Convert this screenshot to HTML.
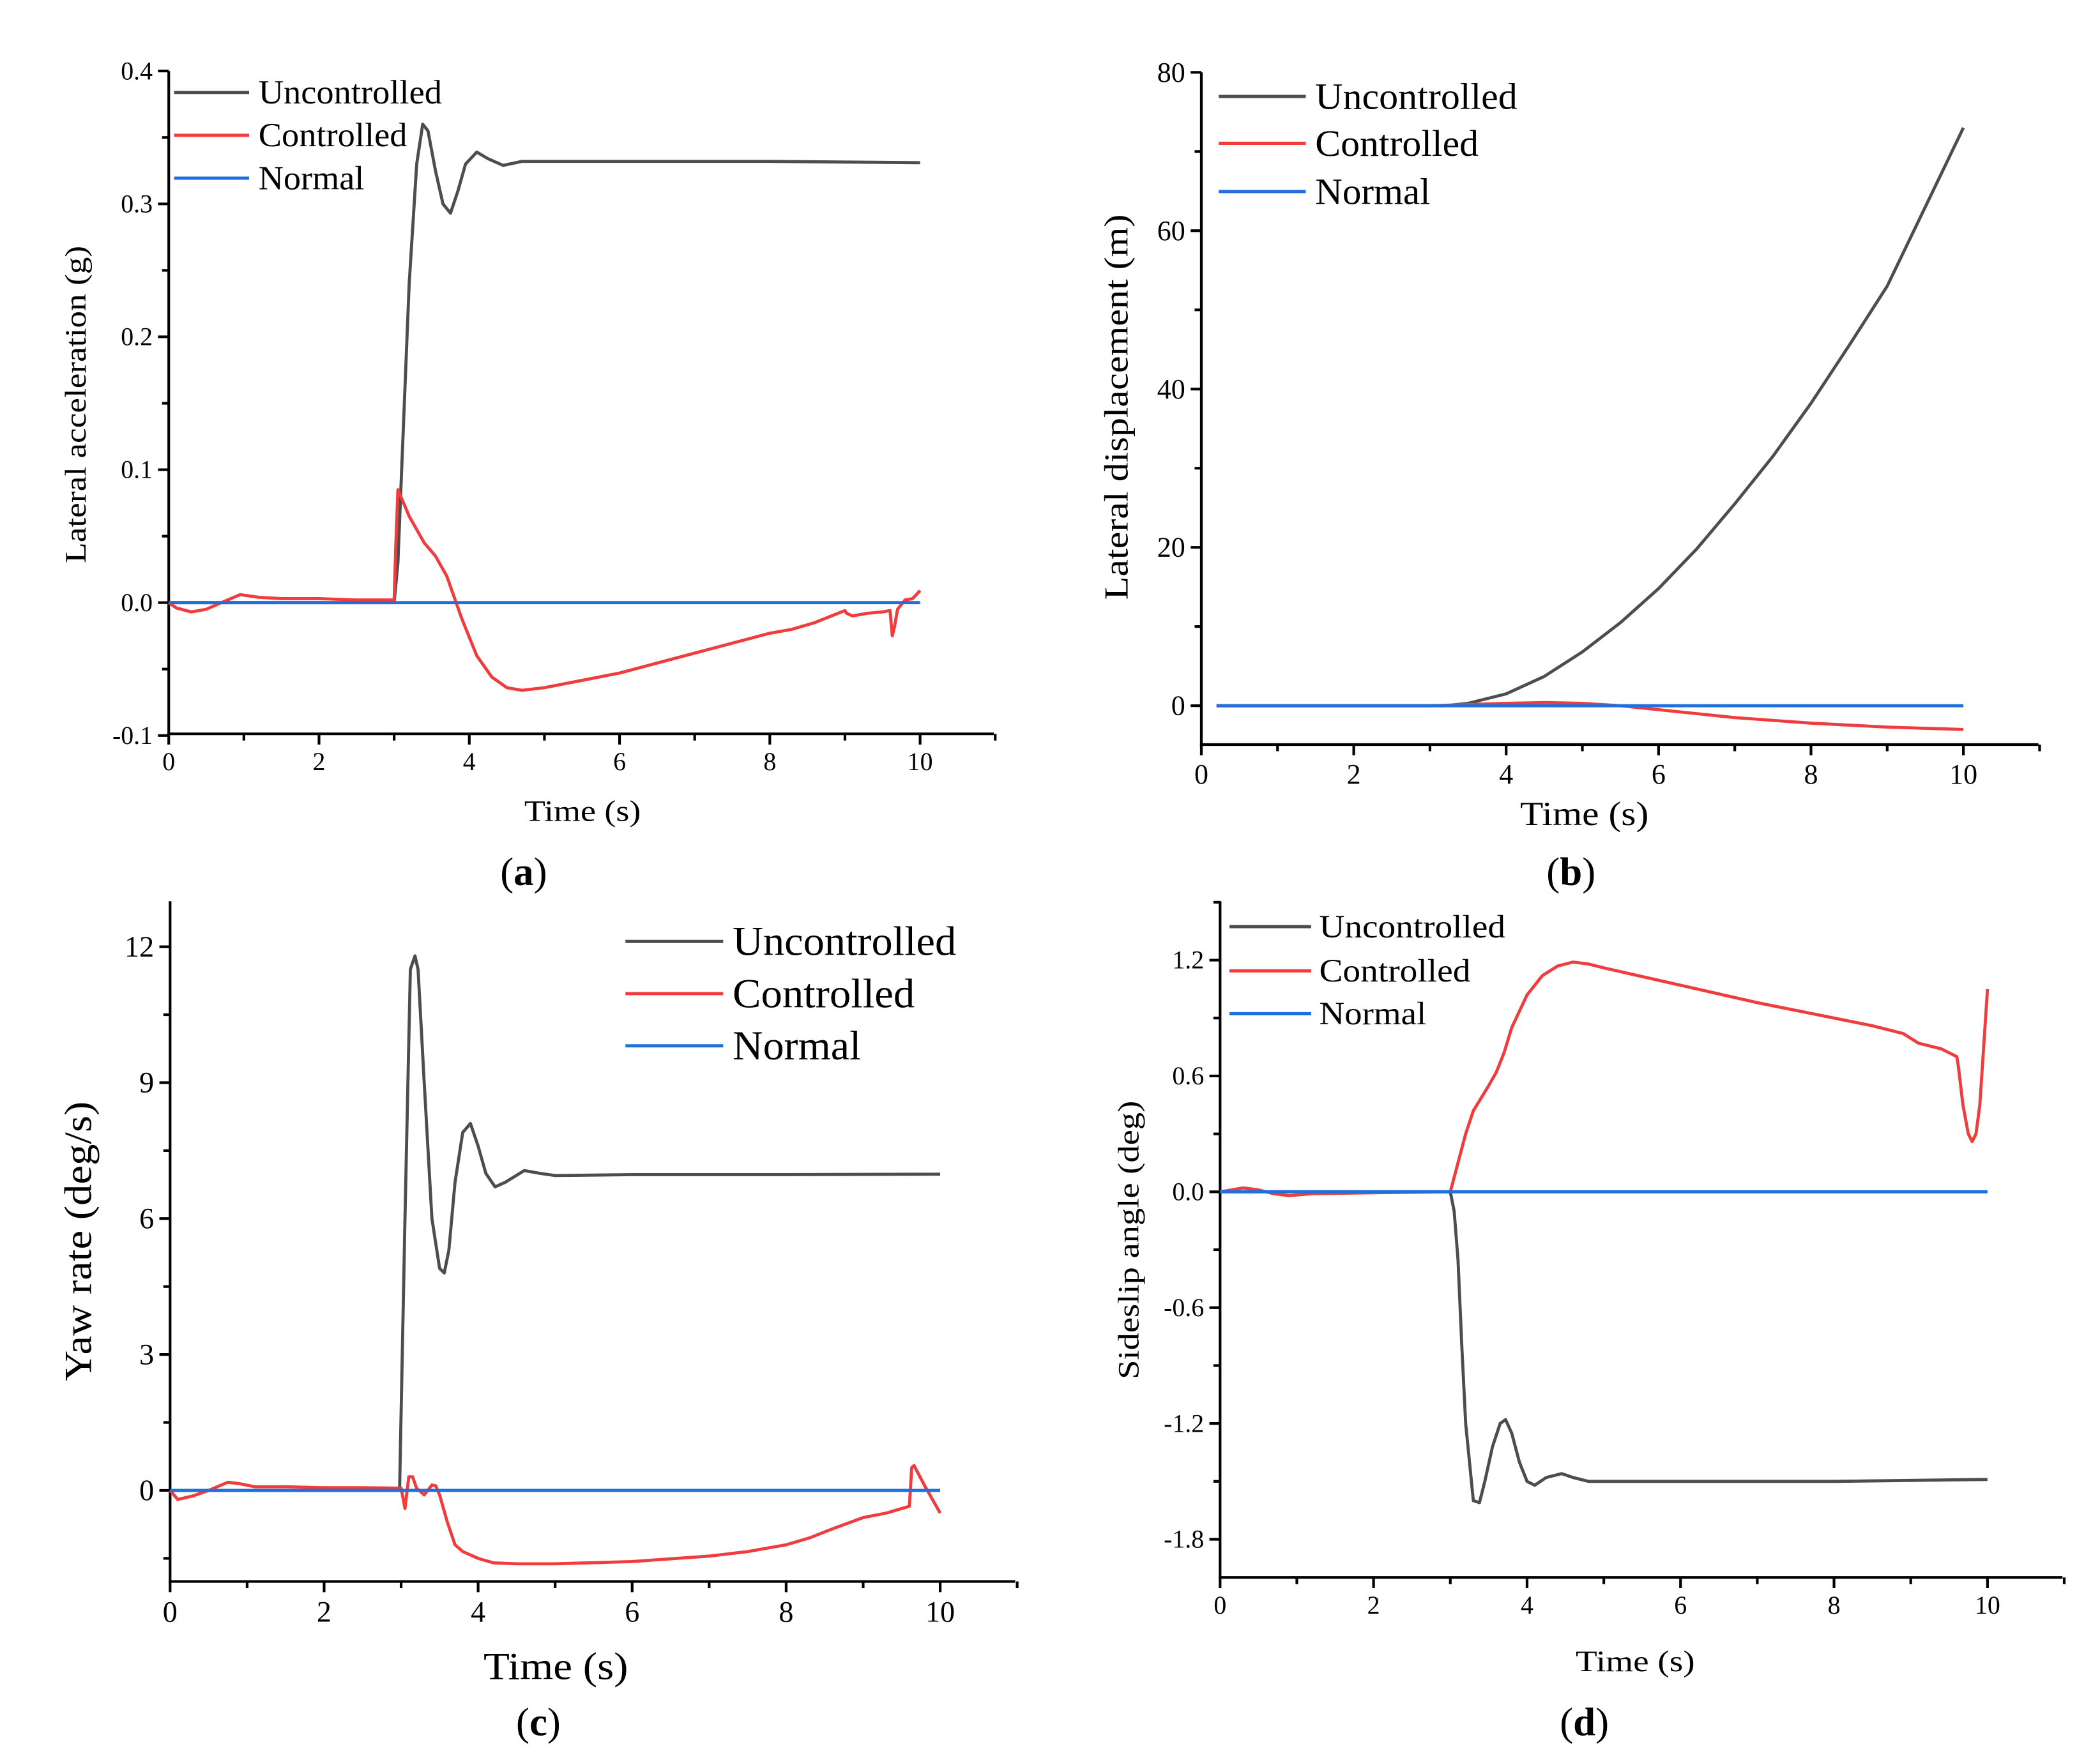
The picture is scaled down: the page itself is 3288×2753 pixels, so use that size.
<!DOCTYPE html>
<html><head><meta charset="utf-8"><style>
html,body{margin:0;padding:0;background:#fff}
svg{display:block}
text{font-family:"Liberation Serif",serif;fill:#000}
</style></head><body>
<svg id="fig" xmlns="http://www.w3.org/2000/svg" width="3288" height="2753" viewBox="0 0 1568 1312.8"></svg>
<script>
// ---- Panel (a) lateral acceleration ----
const aUncT=[0,3,3.05,3.1,3.2,3.3,3.38,3.45,3.55,3.65,3.75,3.85,3.95,4.1,4.25,4.45,4.7,5,6,8,10];
const aUncV=[0,0,0.03,0.1,0.24,0.33,0.36,0.355,0.325,0.30,0.293,0.31,0.33,0.339,0.334,0.329,0.332,0.332,0.332,0.332,0.331];
const aConT=[0,0.1,0.3,0.5,0.7,0.95,1.2,1.5,2,2.5,3,3.02,3.05,3.2,3.4,3.55,3.7,3.9,4.1,4.3,4.5,4.7,5,6,7,8,8.3,8.6,9,9.02,9.1,9.3,9.5,9.6,9.63,9.66,9.7,9.8,9.9,10];
const aConV=[0,-0.004,-0.007,-0.005,0,0.006,0.004,0.003,0.003,0.002,0.002,0.04,0.085,0.065,0.045,0.035,0.02,-0.012,-0.04,-0.056,-0.064,-0.066,-0.064,-0.053,-0.038,-0.023,-0.02,-0.015,-0.006,-0.008,-0.01,-0.008,-0.007,-0.006,-0.025,-0.018,-0.005,0.002,0.003,0.009];
const aNorT=[0,10];
const aNorV=[0,0];
const aYTicks=["-0.1","0.0","0.1","0.2","0.3","0.4"];
// ---- Panel (b) lateral displacement ----
const bUncT=[0.2,3.2,3.5,4,4.5,5,5.5,6,6.5,7,7.5,8,8.5,9,9.5,10];
const bUncV=[0,0,0.3,1.5,3.7,6.8,10.5,14.8,19.8,25.5,31.5,38.2,45.5,53,63,73];
const bConT=[0.2,3,4,4.5,5,5.5,6,7,8,9,10];
const bConV=[0,0,0.3,0.4,0.3,0,-0.5,-1.5,-2.2,-2.7,-3];
const bNorT=[0.2,10];
const bNorV=[0,0];
const bYTicks=["0","20","40","60","80"];
// ---- Panel (c) yaw rate ----
const cUncT=[0,2.98,3.05,3.12,3.18,3.22,3.3,3.4,3.5,3.56,3.62,3.7,3.8,3.9,4.0,4.1,4.22,4.35,4.6,4.8,5,6,8,10];
const cUncV=[0,0,6,11.5,11.8,11.5,9,6,4.9,4.8,5.3,6.8,7.9,8.1,7.6,7,6.7,6.8,7.06,7.0,6.95,6.97,6.97,6.98];
const cConT=[0,0.1,0.3,0.5,0.75,0.9,1.1,1.5,2,2.5,3,3.05,3.1,3.15,3.2,3.3,3.4,3.45,3.5,3.6,3.7,3.8,4,4.2,4.5,5,6,7,7.5,8,8.3,8.6,9,9.3,9.6,9.63,9.66,9.8,10];
const cConV=[0,-0.2,-0.12,0,0.18,0.15,0.08,0.08,0.06,0.06,0.05,-0.4,0.3,0.3,0.05,-0.1,0.12,0.1,-0.1,-0.7,-1.2,-1.35,-1.5,-1.6,-1.62,-1.62,-1.57,-1.45,-1.35,-1.2,-1.05,-0.85,-0.6,-0.5,-0.35,0.5,0.55,0.1,-0.5];
const cNorT=[0,10];
const cNorV=[0,0];
const cYTicks=["0","3","6","9","12"];
// ---- Panel (d) sideslip angle ----
const dUncT=[0,3,3.05,3.1,3.15,3.2,3.3,3.38,3.45,3.55,3.65,3.72,3.8,3.9,4.0,4.1,4.25,4.45,4.6,4.8,5,6,8,10];
const dUncV=[0,0,-0.1,-0.35,-0.8,-1.2,-1.6,-1.61,-1.5,-1.32,-1.2,-1.18,-1.25,-1.4,-1.5,-1.52,-1.48,-1.46,-1.48,-1.5,-1.5,-1.5,-1.5,-1.49];
const dConT=[0,0.15,0.3,0.5,0.7,0.9,1.2,2,3,3.1,3.2,3.3,3.5,3.6,3.7,3.8,4.0,4.2,4.4,4.6,4.8,5,6,7,8,8.5,8.9,9.1,9.4,9.6,9.62,9.68,9.75,9.8,9.85,9.9,9.95,10];
const dConV=[0,0.01,0.02,0.01,-0.01,-0.02,-0.01,-0.005,0,0.15,0.3,0.42,0.55,0.62,0.72,0.85,1.02,1.12,1.17,1.19,1.18,1.16,1.07,0.98,0.9,0.86,0.82,0.77,0.74,0.7,0.65,0.45,0.3,0.26,0.3,0.45,0.75,1.05];
const dNorT=[0,10];
const dNorV=[0,0];
const dYTicks=["-1.8","-1.2","-0.6","0.0","0.6","1.2"];
const xTicks=["0","2","4","6","8","10"];

const NS="http://www.w3.org/2000/svg";
const svg=document.getElementById('fig');
function mk(tag,attrs,parent){const e=document.createElementNS(NS,tag);for(const k in attrs)e.setAttribute(k,attrs[k]);(parent||svg).appendChild(e);return e;}
function txt(s,attrs,parent){const e=mk('text',attrs,parent);e.textContent=s;return e;}
const COL={unc:'#4d4d4d',con:'#f03c3c',nor:'#1f6fdc'};

function panel(P){
  const g=mk('g',{});
  
  
  const sx=v=>P.x0+(v-0)/(10-0)*(P.x10-P.x0);
  const sy=v=>P.yA+(v-P.vA)/(P.vB-P.vA)*(P.yB-P.yA);
  const ya=mk('line',{x1:P.x0,y1:P.top,x2:P.x0,y2:P.bot+1,stroke:'#000','stroke-width':2},g);
  
  const xa=mk('line',{x1:P.x0-1,y1:P.bot,x2:P.xEnd,y2:P.bot,stroke:'#000','stroke-width':2},g);
  
  for(let i=0;i<=11;i++){const x=sx(i);const major=i%2==0;
    mk('line',{x1:x,y1:P.bot,x2:x,y2:P.bot+(major?8:5),stroke:'#000','stroke-width':2},g);
    if(major&&i<=10){const t=txt(xTicks[i/2],{x:x,y:P.bot+P.tf+8,'font-size':P.tf,'text-anchor':'middle'},g);
      }
  }
  P.yTicks.forEach((lab,i)=>{const v=parseFloat(lab);const y=sy(v);
    mk('line',{x1:P.x0-8,y1:y,x2:P.x0,y2:y,stroke:'#000','stroke-width':2},g);
    const t=txt(lab,{x:P.x0-12,y:y+P.tf*0.33,'font-size':P.tf,'text-anchor':'end'},g);
    
    if(i<P.yTicks.length-1||P.extraMinor){const vm=v+P.step/2;const ym=sy(vm);
      if(ym>P.top-1) mk('line',{x1:P.x0-5,y1:ym,x2:P.x0,y2:ym,stroke:'#000','stroke-width':2},g);}
    if(i==0&&P.minorBelow){const ym=sy(v-P.step/2);if(ym<P.bot-2)mk('line',{x1:P.x0-5,y1:ym,x2:P.x0,y2:ym,stroke:'#000','stroke-width':2},g);}
  });
  const ser=[['uncontrolled',P.unc[0],P.unc[1],COL.unc],['controlled',P.con[0],P.con[1],COL.con],['normal',P.nor[0],P.nor[1],COL.nor]];
  ser.forEach(s=>{const d=s[1].map((t,i)=>(i?'L':'M')+sx(t).toFixed(2)+','+sy(s[2][i]).toFixed(2)).join('');
    const p=mk('path',{d:d,fill:'none',stroke:s[3],'stroke-width':2.3,'stroke-linejoin':'round'},g);
    });
  const labs=['Uncontrolled','Controlled','Normal'];const cols=[COL.unc,COL.con,COL.nor];
  labs.forEach((l,i)=>{const y=P.lgY[i];
    const ln=mk('line',{x1:P.lgX1,y1:y,x2:P.lgX2,y2:y,stroke:cols[i],'stroke-width':2.4},g);
    
    const t=txt(l,{x:P.lgT,y:y+P.lf*0.33,'font-size':P.lf},g);
    t.setAttribute('textLength',P.lw[i]);t.setAttribute('lengthAdjust','spacingAndGlyphs');
    });
  const yt=txt(P.ylab,{x:0,y:0,'font-size':P.af,'text-anchor':'middle',transform:`translate(${P.ylx},${P.yly}) rotate(-90)`,textLength:P.ylw,lengthAdjust:'spacingAndGlyphs'},g);
  
  const xt=txt('Time (s)',{x:P.xlx,y:P.xly,'font-size':P.af,'text-anchor':'middle',textLength:P.xlw,lengthAdjust:'spacingAndGlyphs'},g);
  
  const cap=mk('text',{x:P.cx,y:P.cy,'font-size':30,'text-anchor':'middle'},g);
  cap.innerHTML='(<tspan font-weight="bold">'+P.cap+'</tspan>)';
  
}

panel({name:'panel-a-lateral-acceleration',x0:126,x10:687,xEnd:742,top:53,bot:548,yA:450,vA:0,yB:53,vB:0.4,step:0.1,minorBelow:true,
  yTicks:aYTicks,tf:19,unc:[aUncT,aUncV],con:[aConT,aConV],nor:[aNorT,aNorV],
  lgX1:130,lgX2:186,lgT:193,lgY:[69,101,133],lf:25,lw:[137,111,79],
  ylab:'Lateral acceleration (g)',ylx:64,yly:302,af:22,ylw:237,xlx:435,xly:613,xlw:87,cx:391,cy:661,cap:'a'});
panel({name:'panel-b-lateral-displacement',x0:897,x10:1466,xEnd:1522,top:54,bot:556,yA:527,vA:0,yB:54,vB:80,step:20,minorBelow:true,
  yTicks:bYTicks,tf:21,unc:[bUncT,bUncV],con:[bConT,bConV],nor:[bNorT,bNorV],
  lgX1:910,lgX2:975,lgT:982,lgY:[72,107,143],lf:28,lw:[151,122,86],
  ylab:'Lateral displacement (m)',ylx:842,yly:304,af:25,ylw:288,xlx:1183,xly:616,xlw:96,cx:1173,cy:661,cap:'b'});
panel({name:'panel-c-yaw-rate',x0:127,x10:702,xEnd:758,top:673,bot:1181,yA:1113,vA:0,yB:707,vB:12,step:3,minorBelow:true,extraMinor:true,
  yTicks:cYTicks,tf:22,unc:[cUncT,cUncV],con:[cConT,cConV],nor:[cNorT,cNorV],
  lgX1:467,lgX2:540,lgT:547,lgY:[703,742,781],lf:31,lw:[167,136,96],
  ylab:'Yaw rate (deg/s)',ylx:68,yly:927,af:29,ylw:209,xlx:415,xly:1254,xlw:108,cx:402,cy:1296,cap:'c'});
panel({name:'panel-d-sideslip-angle',x0:911,x10:1484,xEnd:1540,top:673,bot:1178,yA:890,vA:0,yB:717,vB:1.2,step:0.6,minorBelow:true,extraMinor:true,
  yTicks:dYTicks,tf:19,unc:[dUncT,dUncV],con:[dConT,dConV],nor:[dNorT,dNorV],
  lgX1:918,lgX2:979,lgT:985,lgY:[692,725,757],lf:24,lw:[139,113,80],
  ylab:'Sideslip angle (deg)',ylx:850,yly:926,af:22,ylw:208,xlx:1221,xly:1248,xlw:89,cx:1183,cy:1296,cap:'d'});
</script>
</body></html>
